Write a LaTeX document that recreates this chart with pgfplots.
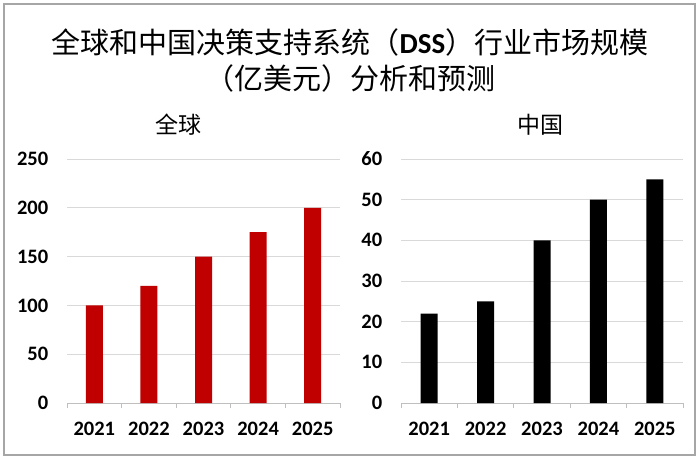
\documentclass[border=0pt]{standalone}
\usepackage{pgfplots}
\pgfplotsset{compat=1.18}
\usepackage{fontspec}
\setmainfont{Carlito}
\newfontfamily\cjk{Noto Sans CJK SC}
\definecolor{barred}{HTML}{C00000}
\definecolor{gridgray}{HTML}{D9D9D9}
\definecolor{axgray}{HTML}{BFBFBF}
\definecolor{frame}{HTML}{A6A6A6}
\pgfplotsset{
  mybars/.style={
    scale only axis,
    anchor=south west,
    height=244pt,
    ybar, bar width=17pt,
    xmin=-0.5, xmax=4.5,
    ymin=0,
    xtick={0,1,2,3,4},
    xticklabels={2021,2022,2023,2024,2025},
    minor xtick={-0.5,0.5,1.5,2.5,3.5,4.5},
    major x tick style={draw=none},
    minor x tick style={axgray, line width=0.8pt},
    minor tick length=5pt,
    tick align=outside,
    axis x line*=bottom,
    axis y line*=left,
    x axis line style={axgray, line width=0.8pt, -},
    y axis line style={draw=none},
    ytick style={draw=none},
    ymajorgrids,
    grid style={gridgray, line width=0.8pt},
    tick label style={font=\fontsize{20.5}{22}\selectfont\bfseries},
    /pgf/number format/assume math mode=true,
    yticklabel style={anchor=east, xshift=-11pt},
    xticklabel style={anchor=north, yshift=-11pt},
    clip=false,
  }
}
\begin{document}
\begin{tikzpicture}
\path (0pt,0pt) rectangle (700pt,460pt);
\draw[frame, line width=1.5pt] (4pt,5pt) rectangle (695pt,456pt);
\node[font=\cjk\fontsize{29}{32}\selectfont] at (350pt,418pt) {全球和中国决策支持系统（{\bfseries\rmfamily DSS}）行业市场规模};
\node[font=\cjk\fontsize{29}{32}\selectfont] at (350pt,382pt) {（亿美元）分析和预测};
\node[font=\cjk\fontsize{23}{26}\selectfont] at (178pt,335pt) {全球};
\node[font=\cjk\fontsize{23}{26}\selectfont] at (540pt,335pt) {中国};
\begin{axis}[mybars, at={(67pt,57pt)}, width=273pt, ymax=250, ytick={0,50,100,150,200,250}]
\addplot[fill=barred, draw=none] coordinates {(0,100) (1,120) (2,150) (3,175) (4,200)};
\end{axis}
\begin{axis}[mybars, at={(401pt,57pt)}, width=282pt, ymax=60, ytick={0,10,20,30,40,50,60}]
\addplot[fill=black, draw=none] coordinates {(0,22) (1,25) (2,40) (3,50) (4,55)};
\end{axis}
\end{tikzpicture}
\end{document}
